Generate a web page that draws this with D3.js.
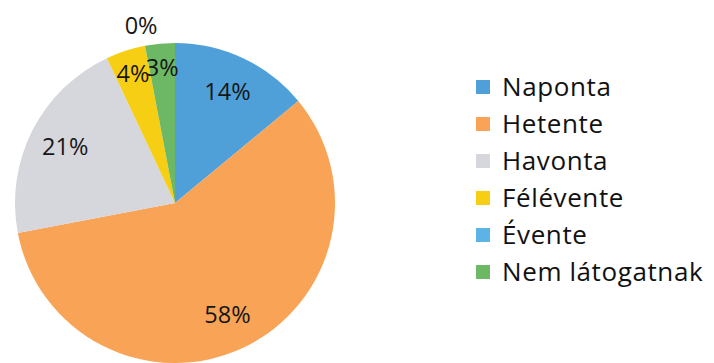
<!DOCTYPE html>
<html><head><meta charset="utf-8">
<script src="https://cdn.jsdelivr.net/npm/d3@7"></script>
<style>body{margin:0;background:#fff}svg{display:block}</style>
</head><body>
<svg id="c" width="714" height="363"></svg>
<script>
const categories = ["Naponta","Hetente","Havonta","Félévente","Évente","Nem látogatnak"];
const values = [14,58,21,4,0,3];
const labels = ["14%","58%","21%","4%","0%","3%"];
const colors = ["#4f9fd8","#f8a355","#d6d7dd","#f6cf14","#5cb3e6","#6db864"];

const svg = d3.select("#c");
const cx = 175, cy = 203, R = 160;
const font = "'Open Sans', Lato, sans-serif";

const pie = d3.pie().value(d => d).sort(null);
const arcs = pie(values);
const arc = d3.arc().innerRadius(0).outerRadius(R);

const g = svg.append("g").attr("transform", `translate(${cx},${cy})`);
g.selectAll("path").data(arcs).enter().append("path")
  .attr("d", arc).attr("fill", (d,i) => colors[i]);

function labelR(d, i) {
  if (d.data === 0) return R * 1.13;
  if (d.data < 5) return R * 0.85;
  return R * 0.77;
}
g.selectAll("text").data(arcs).enter().append("text")
  .attr("transform", (d,i) => {
    const a = (d.startAngle + d.endAngle) / 2;
    const r = labelR(d, i);
    return `translate(${Math.sin(a)*r},${-Math.cos(a)*r})`;
  })
  .attr("text-anchor", "middle").attr("dy", "0.35em")
  .style("font-family", font).style("font-size", "23.5px").attr("fill", "#161616")
  .text((d,i) => labels[i]);

const leg = svg.append("g").attr("transform", "translate(476,87)");
const row = leg.selectAll("g").data(categories).enter().append("g")
  .attr("transform", (d,i) => `translate(0,${i*37})`);
row.append("rect").attr("x", 0).attr("y", -7).attr("width", 14).attr("height", 14)
  .attr("fill", (d,i) => colors[i]);
row.append("text").attr("x", 26).attr("dy", "0.36em")
  .style("font-family", font).style("font-size", "26px").style("letter-spacing", "0.6px").attr("fill", "#111")
  .text(d => d);
</script>
</body></html>
